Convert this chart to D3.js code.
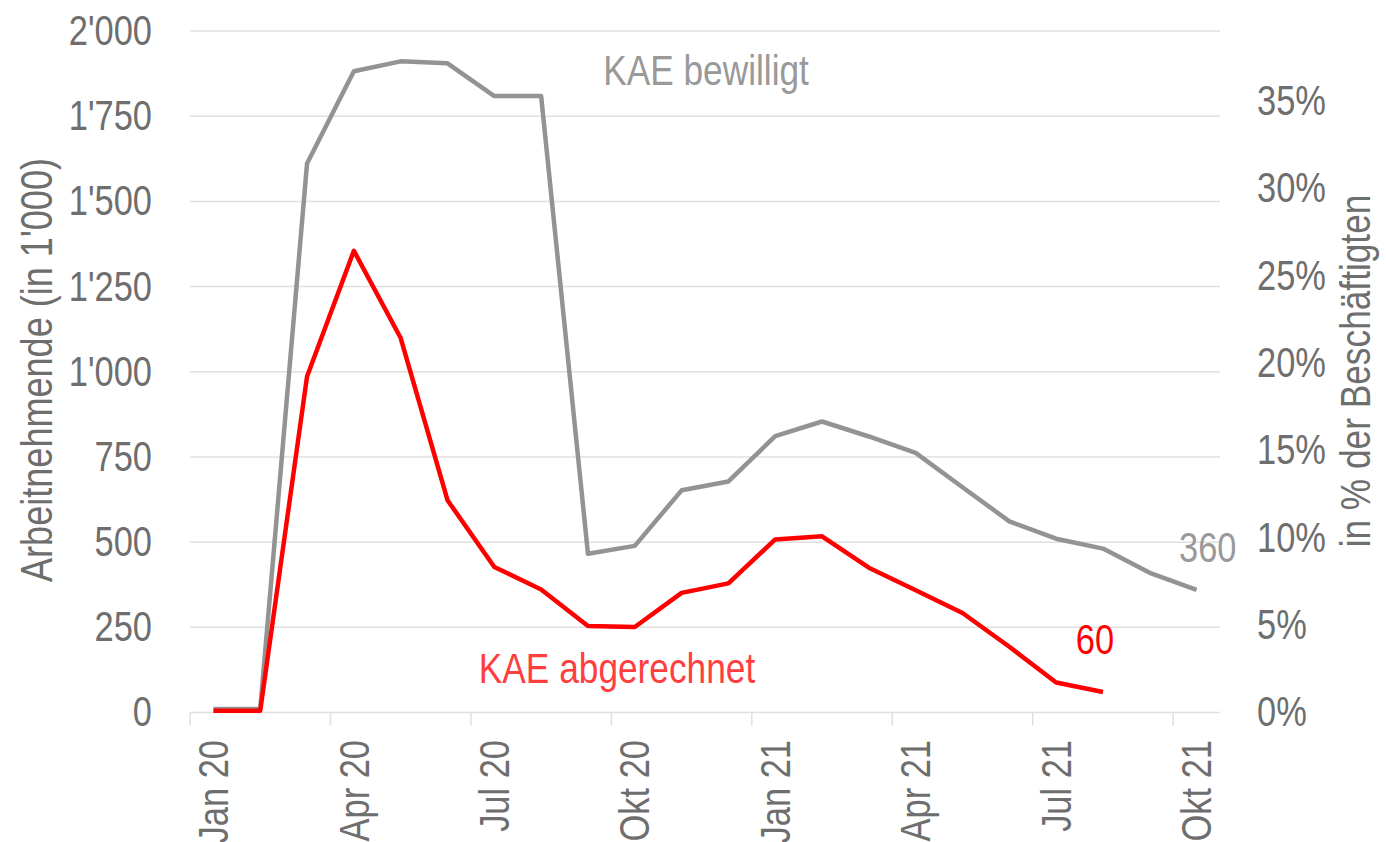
<!DOCTYPE html>
<html>
<head>
<meta charset="utf-8">
<script src="https://cdn.jsdelivr.net/npm/d3@7"></script>
<style>
	body { margin: 0; background: #fff; }
	svg text { font-family: 'Liberation Sans', Arial, sans-serif; }
</style>
</head>
<body>
<svg id="chart" width="1386" height="842"></svg>
<script>
const MONTHS = [
	'Jan 20', 'Feb 20', 'Mrz 20', 'Apr 20', 'Mai 20', 'Jun 20',
	'Jul 20', 'Aug 20', 'Sep 20', 'Okt 20', 'Nov 20', 'Dez 20',
	'Jan 21', 'Feb 21', 'Mrz 21', 'Apr 21', 'Mai 21', 'Jun 21',
	'Jul 21', 'Aug 21', 'Sep 21', 'Okt 21'
];
const TICK_MONTHS = ['Jan 20', 'Apr 20', 'Jul 20', 'Okt 20', 'Jan 21', 'Apr 21', 'Jul 21', 'Okt 21'];

// Arbeitnehmende in 1'000
const bewilligt = [10, 10, 1611, 1882, 1911, 1905, 1809, 1809, 466, 489, 652, 678, 811, 854, 810, 762, 661, 561, 510, 481, 410, 360];
const abgerechnet = [5, 5, 986, 1355, 1099, 623, 427, 361, 254, 251, 351, 379, 508, 517, 425, 359, 292, 193, 88, 60];

const LEFT_TICKS = [0, 250, 500, 750, 1000, 1250, 1500, 1750, 2000];
const RIGHT_TICKS = [0, 0.05, 0.1, 0.15, 0.2, 0.25, 0.3, 0.35];

const FS = 42;
const NARROW = 0.82; // fake Arial Narrow
const GRID = '#e0e0e0';
const TEXT = '#6e6e6e';
const GRAY = '#939393';
const RED = '#ff0000';

const $svg = d3.select('#chart');

const x = d3.scaleBand().domain(MONTHS).range([190, 1220]);
const y = d3.scaleLinear().domain([0, 2000]).range([712.5, 31]);
const yR = d3.scaleLinear().domain([0, 0.39]).range([712.5, 31]);

const ch = d3.formatLocale({ decimal: '.', thousands: "'", grouping: [3], currency: ['', ''] });
const fmt = ch.format(',');

function label(x0, y0, txt, { size = FS, fill = TEXT, anchor = 'start', rot = 0 } = {}) {
	return $svg.append('text')
		.attr('transform', `translate(${x0},${y0}) rotate(${rot}) scale(${NARROW},1)`)
		.attr('text-anchor', anchor)
		.attr('font-size', size)
		.attr('fill', fill)
		.text(txt);
}

// gridlines
$svg.append('g')
	.selectAll('line')
	.data(LEFT_TICKS)
	.join('line')
	.attr('x1', 190)
	.attr('x2', 1220)
	.attr('y1', d => y(d))
	.attr('y2', d => y(d))
	.attr('stroke', GRID)
	.attr('stroke-width', 1.5);

// x ticks at band starts
$svg.append('g')
	.selectAll('line')
	.data(TICK_MONTHS)
	.join('line')
	.attr('x1', d => x(d))
	.attr('x2', d => x(d))
	.attr('y1', y(0))
	.attr('y2', y(0) + 13)
	.attr('stroke', GRID)
	.attr('stroke-width', 1.5);

// left axis
const $yl = $svg.append('g')
	.attr('transform', 'translate(190,0)')
	.call(d3.axisLeft(y).tickValues(LEFT_TICKS).tickFormat(fmt).tickSize(0).tickPadding(38));
$yl.select('.domain').remove();
$yl.selectAll('text')
	.attr('font-size', FS).attr('fill', TEXT).style('font-family', null)
	.attr('x', -38 / NARROW)
	.attr('transform', `scale(${NARROW},1)`);

// right axis
const $yr = $svg.append('g')
	.attr('transform', 'translate(1220,0)')
	.call(d3.axisRight(yR).tickValues(RIGHT_TICKS).tickFormat(d3.format('.0%')).tickSize(0).tickPadding(37));
$yr.select('.domain').remove();
$yr.selectAll('text')
	.attr('font-size', FS).attr('fill', TEXT).style('font-family', null)
	.attr('x', 37 / NARROW)
	.attr('transform', `scale(${NARROW},1)`);

// x labels
$svg.append('g')
	.selectAll('text')
	.data(TICK_MONTHS)
	.join('text')
	.attr('transform', d => `translate(${x(d) + x.bandwidth() / 2},740) rotate(-90) scale(${NARROW},1)`)
	.attr('text-anchor', 'end')
	.attr('dy', '0.35em')
	.attr('font-size', FS)
	.attr('fill', TEXT)
	.text(d => d);

// axis titles
label(52, 370, "Arbeitnehmende (in 1'000)", { size: 44, anchor: 'middle', rot: -90 });
label(1370, 371, 'in % der Beschäftigten', { size: 43, anchor: 'middle', rot: -90 });

// lines
const line = d3.line()
	.x((d, i) => x(MONTHS[i]) + x.bandwidth() / 2)
	.y(d => y(d));

$svg.append('path')
	.datum(bewilligt)
	.attr('d', line)
	.attr('fill', 'none')
	.attr('stroke', GRAY)
	.attr('stroke-width', 4.5)
	.attr('stroke-linejoin', 'round');

$svg.append('path')
	.datum(abgerechnet)
	.attr('d', line)
	.attr('fill', 'none')
	.attr('stroke', RED)
	.attr('stroke-width', 4.5)
	.attr('stroke-linejoin', 'round');

// series labels
label(706, 85, 'KAE bewilligt', { size: 43, fill: '#999999', anchor: 'middle' });
label(617, 683, 'KAE abgerechnet', { size: 43, fill: '#ff3f3f', anchor: 'middle' });
label(1179, 562, bewilligt[bewilligt.length - 1], { fill: '#999999' });
label(1095, 654, abgerechnet[abgerechnet.length - 1], { fill: RED, anchor: 'middle' });
</script>
</body>
</html>
